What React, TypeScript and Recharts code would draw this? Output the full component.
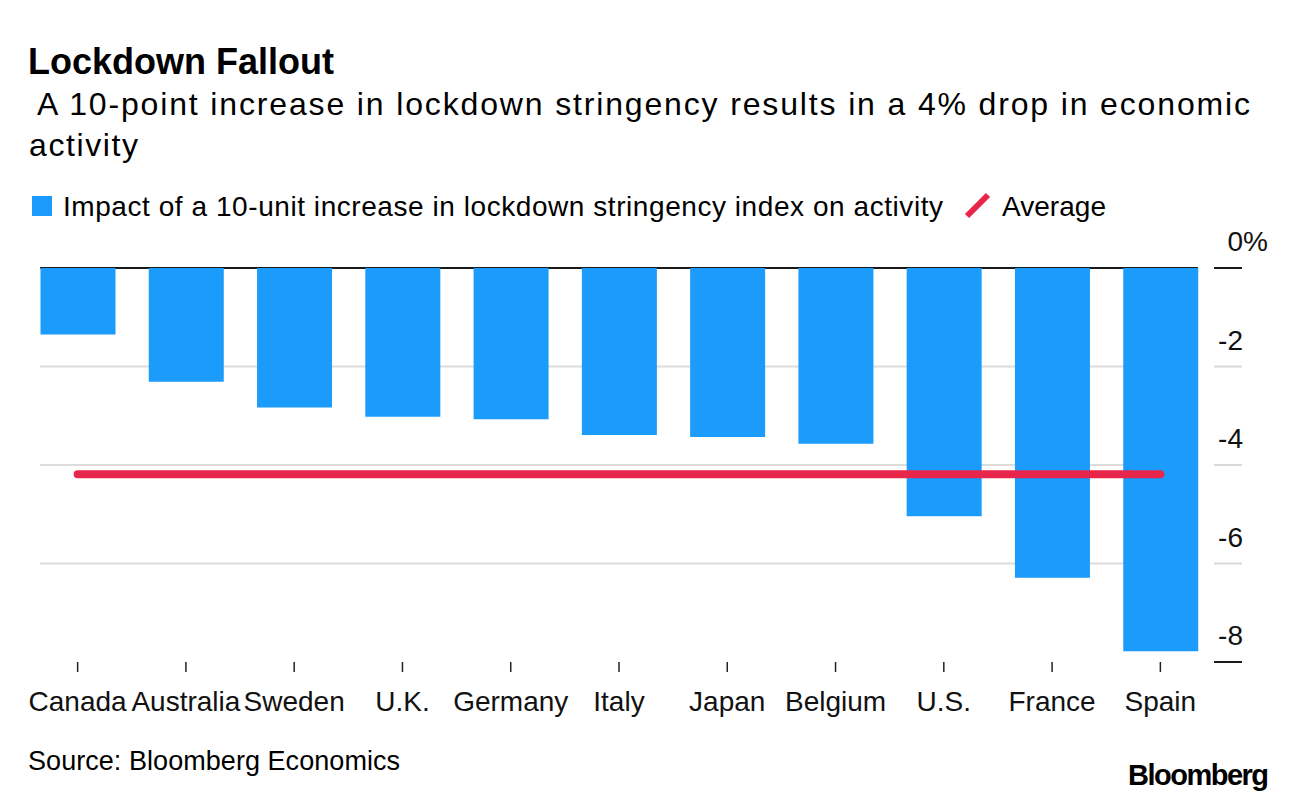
import React from 'react';
import { ComposedChart, Bar, Line, XAxis, YAxis, CartesianGrid } from 'recharts';

const countries = ['Canada', 'Australia', 'Sweden', 'U.K.', 'Germany', 'Italy', 'Japan', 'Belgium', 'U.S.', 'France', 'Spain'];
const impact = [-1.35, -2.31, -2.83, -3.02, -3.07, -3.39, -3.43, -3.57, -5.04, -6.29, -7.78];
const averageImpact = -4.19;
const yTicks = [0, -2, -4, -6, -8];

const data = countries.map((c, i) => ({ country: c, impact: impact[i], avg: averageImpact }));

const BLUE = '#1b9cfc';
const RED = '#e8264b';
const FONT = '"Liberation Sans", Arial, Helvetica, sans-serif';

const W = 1296;
const H = 802;
const PLOT_LEFT = 23.5;
const PLOT_RIGHT = 1214.5;
const PLOT_TOP = 268;
const PLOT_BOTTOM = 662;

const YTick = (props: any) => {
  const { y, payload } = props;
  const v = payload.value;
  const dark = v === 0 || v === -8;
  return (
    <g>
      <line x1={1214} x2={1242} y1={y} y2={y} stroke={dark ? '#1a1a1a' : '#d9d9d9'} strokeWidth={2} />
      <text x={1243} y={y - 17} textAnchor="end" fontSize={28} fill="#111" fontFamily={FONT}>
        {v === 0 ? '0' : String(v)}
      </text>
      {v === 0 && (
        <text x={1243} y={y - 17} textAnchor="start" fontSize={28} fill="#111" fontFamily={FONT}>
          %
        </text>
      )}
    </g>
  );
};

const XTick = (props: any) => {
  const { x, payload } = props;
  return (
    <g>
      <line x1={x} x2={x} y1={PLOT_BOTTOM} y2={PLOT_BOTTOM + 10} stroke="#222" strokeWidth={1.5} />
      <text x={x} y={711} textAnchor="middle" fontSize={28} fill="#111" fontFamily={FONT}>
        {payload.value}
      </text>
    </g>
  );
};

const GridLine = (p: any) => {
  const y = p.y1;
  if (Math.abs(y - PLOT_BOTTOM) < 1) return <g key={p.key} />;
  const isZero = Math.abs(y - PLOT_TOP) < 1;
  return (
    <line
      key={p.key}
      x1={p.x1 + 16.6}
      x2={p.x2 - 16.6}
      y1={y}
      y2={y}
      stroke={isZero ? '#1a1a1a' : '#dcdcdc'}
      strokeWidth={2}
    />
  );
};

export default function App() {
  return (
    <div style={{ position: 'absolute', left: 0, top: 0, width: W, height: H, background: '#fff', fontFamily: FONT }}>
      <ComposedChart
        width={W}
        height={H}
        data={data}
        margin={{ top: PLOT_TOP, right: 0, left: PLOT_LEFT, bottom: 0 }}
      >
        <CartesianGrid vertical={false} horizontal={GridLine as any} />
        <XAxis
          dataKey="country"
          height={H - PLOT_BOTTOM}
          axisLine={false}
          tickLine={false}
          tick={<XTick />}
          interval={0}
        />
        <YAxis
          orientation="right"
          width={W - PLOT_RIGHT}
          domain={[-8, 0]}
          ticks={yTicks}
          axisLine={false}
          tickLine={false}
          tick={<YTick />}
          interval={0}
        />
        <Bar dataKey="impact" fill={BLUE} barSize={75} isAnimationActive={false} />
        <Line
          dataKey="avg"
          type="linear"
          stroke={RED}
          strokeWidth={8}
          strokeLinecap="round"
          dot={false}
          activeDot={false}
          isAnimationActive={false}
        />
      </ComposedChart>
      <svg width={W} height={H} style={{ position: 'absolute', left: 0, top: 0, pointerEvents: 'none' }}>
        <text x={28} y={74} fontSize={36} fontWeight="bold" fill="#000" fontFamily={FONT}>
          Lockdown Fallout
        </text>
        <text x={37} y={115} fontSize={32} fill="#000" fontFamily={FONT} textLength={1213} lengthAdjust="spacing">
          A 10-point increase in lockdown stringency results in a 4% drop in economic
        </text>
        <text x={29} y={156} fontSize={32} fill="#000" fontFamily={FONT} textLength={109} lengthAdjust="spacing">
          activity
        </text>
        <rect x={32} y={196} width={20} height={20} fill={BLUE} />
        <text x={63} y={216} fontSize={28} fill="#000" fontFamily={FONT} textLength={880} lengthAdjust="spacing">
          Impact of a 10-unit increase in lockdown stringency index on activity
        </text>
        <line x1={967} y1={216} x2={988} y2={195} stroke={RED} strokeWidth={6} />
        <text x={1002} y={216} fontSize={28} fill="#000" fontFamily={FONT} textLength={104} lengthAdjust="spacing">
          Average
        </text>
        <text x={28} y={770} fontSize={27} fill="#000" fontFamily={FONT} textLength={372} lengthAdjust="spacing">
          Source: Bloomberg Economics
        </text>
        <text x={1128} y={785} fontSize={29} fontWeight="bold" fill="#000" fontFamily={FONT} letterSpacing={-1.5}>
          Bloomberg
        </text>
      </svg>
    </div>
  );
}
